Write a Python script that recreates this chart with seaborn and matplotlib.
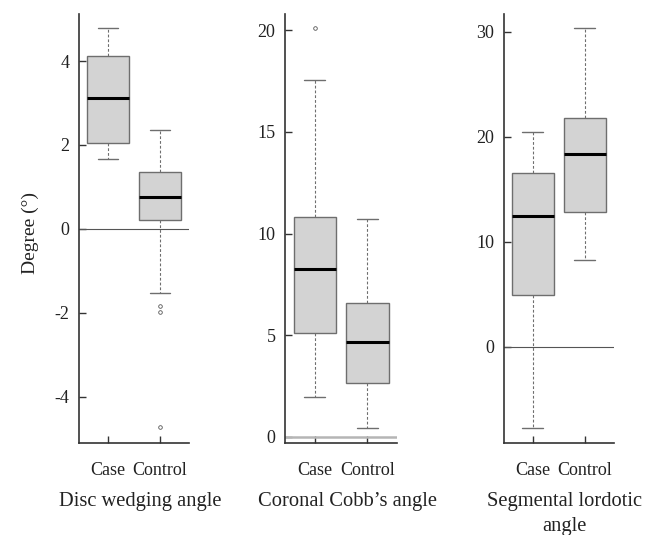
import matplotlib
matplotlib.use('Agg')
import matplotlib.pyplot as plt
import seaborn as sns

# Groups on the x axis
groups = ['Case', 'Control']

# Panel titles
titles = ['Disc wedging angle', 'Coronal Cobb\u2019s angle', 'Segmental lordotic\nangle']

# Five-number summaries: low whisker, Q1, median, Q3, high whisker
disc_case = [1.67, 2.05, 3.13, 4.13, 4.79]
disc_control = [-1.53, 0.21, 0.75, 1.36, 2.36]
disc_case_out = []
disc_control_out = [-1.83, -1.98, -4.73]

cobb_case = [1.97, 5.12, 8.27, 10.8, 17.57]
cobb_control = [0.46, 2.64, 4.66, 6.61, 10.7]
cobb_case_out = [20.11]
cobb_control_out = []

lord_case = [-7.74, 4.9, 12.42, 16.58, 20.44]
lord_control = [8.27, 12.83, 18.34, 21.74, 30.4]
lord_case_out = []
lord_control_out = []

# y axis ranges and ticks
ylims = [(-5.1, 5.12), (-0.3, 20.8), (-9.2, 31.7)]
yticks = [[-4, -2, 0, 2, 4], [0, 5, 10, 15, 20], [0, 10, 20, 30]]


def make_stats(summary, fliers, label):
    lo, q1, med, q3, hi = summary
    return {'whislo': lo, 'q1': q1, 'med': med, 'q3': q3, 'whishi': hi,
            'fliers': fliers, 'label': label}


panel_stats = [
    [make_stats(disc_case, disc_case_out, groups[0]),
     make_stats(disc_control, disc_control_out, groups[1])],
    [make_stats(cobb_case, cobb_case_out, groups[0]),
     make_stats(cobb_control, cobb_control_out, groups[1])],
    [make_stats(lord_case, lord_case_out, groups[0]),
     make_stats(lord_control, lord_control_out, groups[1])],
]

sns.set_style('ticks')
plt.rcParams['font.family'] = ['Liberation Serif', 'DejaVu Serif']
plt.rcParams['axes.unicode_minus'] = False

fig = plt.figure(figsize=(6.59, 5.35), dpi=100)

# axes boxes in pixels: left, right (top 14, bottom 443)
lefts = [79, 285.3, 503.7]
rights = [189, 397, 614]
W, H = 659, 535
top, bottom = 14, 443

for i, stats in enumerate(panel_stats):
    ax = fig.add_axes([lefts[i] / W, (H - bottom) / H,
                       (rights[i] - lefts[i]) / W, (bottom - top) / H])

    # reference line at zero
    if i == 1:
        ax.axhline(0, color='#b5b5b5', lw=1.8, zorder=1)
    else:
        ax.axhline(0, color='#555555', lw=0.8, zorder=1)

    ax.bxp(stats, positions=[1, 2], widths=0.8, capwidths=0.4,
           patch_artist=True, showfliers=True,
           boxprops=dict(facecolor='#d3d3d3', edgecolor='#6e6e6e', lw=1.0),
           medianprops=dict(color='black', lw=2.2),
           whiskerprops=dict(color='#6e6e6e', lw=0.8, linestyle=(0, (2.5, 1.8))),
           capprops=dict(color='#6e6e6e', lw=1.0),
           flierprops=dict(marker='o', markersize=2.6, markerfacecolor='none',
                           markeredgecolor='#555555', markeredgewidth=0.6),
           zorder=2)

    ax.set_xlim(0.44, 2.56)
    ax.set_ylim(*ylims[i])
    ax.set_yticks(yticks[i])
    ax.set_xticks([1, 2])
    ax.set_xticklabels(groups)

    sns.despine(ax=ax)
    for side in ['left', 'bottom']:
        ax.spines[side].set_color('#333333')
        ax.spines[side].set_linewidth(1.2)

    ax.tick_params(axis='y', direction='in', length=5, width=1.0,
                   color='#333333', labelsize=13, labelcolor='#222222', pad=7)
    ax.tick_params(axis='x', direction='in', length=5, width=1.0,
                   color='#333333', labelsize=13, labelcolor='#222222', pad=13.5)

    ax.set_xlabel(titles[i], fontsize=14.8, color='#222222',
                  linespacing=1.4, ha='center')
    ax.xaxis.set_label_coords(0.555, -0.115)

    if i == 0:
        ax.set_ylabel('Degree (\u00b0)', fontsize=14, color='#222222')
        ax.yaxis.set_label_coords(-0.36, 0.49)

fig.savefig('out.png', dpi=100)
